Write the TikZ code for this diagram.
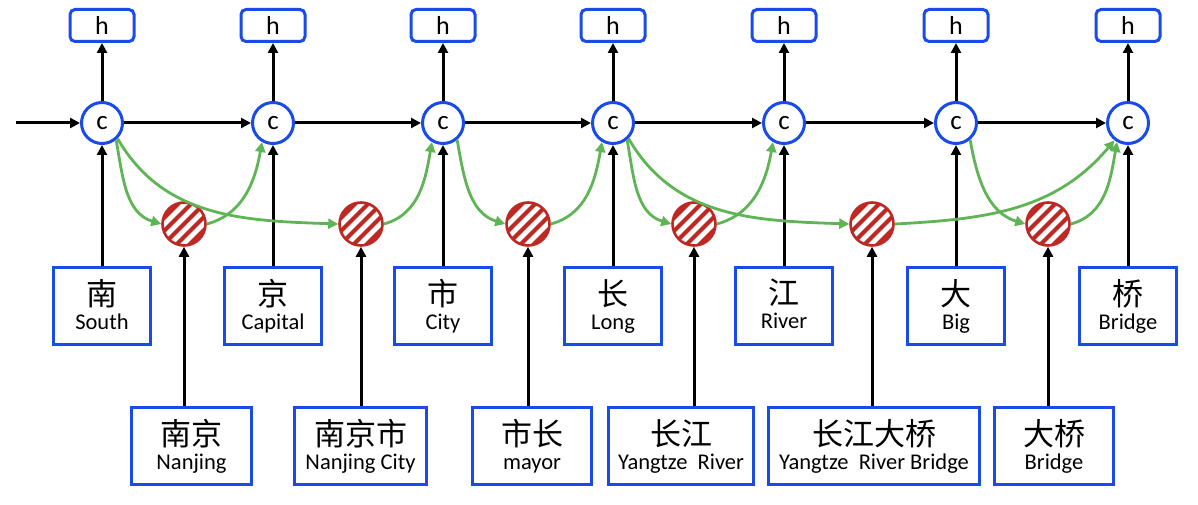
\documentclass[tikz,border=0pt]{standalone}
\usepackage{fontspec}
\setmainfont{Carlito}
\newfontfamily\cjk{Noto Sans CJK SC}
\usetikzlibrary{arrows.meta}
\definecolor{bblue}{RGB}{25,75,235}
\definecolor{rred}{RGB}{190,40,35}
\definecolor{ggreen}{RGB}{95,180,85}
\newcommand\wt[2]{{\cjk\fontsize{31}{24}\selectfont #1}\\{#2\vphantom{g}}}
\tikzset{
  cell/.style={circle,draw=bblue,line width=3pt,fill=white,minimum size=41pt,inner sep=0pt,font=\fontsize{27}{27}\selectfont},
  outbox/.style={draw=bblue,line width=3pt,rounded corners=5pt,minimum width=64pt,minimum height=32pt,inner sep=0pt,font=\fontsize{26}{26}\selectfont},
  wordbox/.style={draw=bblue,line width=3pt,minimum height=77pt,inner sep=0pt,align=center,font=\fontsize{22.5}{24}\selectfont},
  gate/.style={circle,draw=rred,line width=2.6pt,fill=white,minimum size=43pt,inner sep=0pt,
    path picture={\foreach \d in {-39,-26,...,39}{\draw[rred,line width=4pt] ([xshift=\d pt]path picture bounding box.center) ++(-30pt,-30pt) -- ++(60pt,60pt);}}},
  flow/.style={-{Triangle[length=10pt,width=10pt]},line width=3pt,black},
  skip/.style={-{Triangle[length=10pt,width=10pt]},line width=2.8pt,ggreen},
}
\begin{document}
\begin{tikzpicture}[x=1pt,y=1pt]
\useasboundingbox (0,0) rectangle (1198,504);
% cells
\foreach \i/\x in {1/102,2/273,3/443,4/613,5/784,6/956,7/1128}{
  \node[cell] (c\i) at (\x,381) {c};
  \node[outbox] (h\i) at (\x,478.5) {h};
}
% gates
\foreach \i/\x in {1/184,2/361,3/528,4/694,5/872,6/1048}{
  \node[gate] (r\i) at (\x,280) {};
}
% word boxes row 1
\node[wordbox,minimum width=97pt] (w1) at (102,198) {\wt{南}{South}};
\node[wordbox,minimum width=97pt] (w2) at (273,198) {\wt{京}{Capital}};
\node[wordbox,minimum width=97pt] (w3) at (443,198) {\wt{市}{City}};
\node[wordbox,minimum width=97pt] (w4) at (613,198) {\wt{长}{Long}};
\node[wordbox,minimum width=97pt] (w5) at (784,198) {\wt{江}{River}};
\node[wordbox,minimum width=97pt] (w6) at (956,198) {\wt{大}{Big}};
\node[wordbox,minimum width=97pt] (w7) at (1128,198) {\wt{桥}{Bridge}};
% word boxes row 2
\node[wordbox,minimum width=120pt] (p1) at (191.5,58) {\wt{南京}{Nanjing}};
\node[wordbox,minimum width=132pt] (p2) at (360.5,58) {\wt{南京市}{Nanjing City}};
\node[wordbox,minimum width=119pt] (p3) at (532,58) {\wt{市长}{mayor}};
\node[wordbox,minimum width=145pt] (p4) at (681,58) {\wt{长江}{Yangtze\ \ River}};
\node[wordbox,minimum width=211pt] (p5) at (874,58) {\wt{长江大桥}{Yangtze\ \ River Bridge}};
\node[wordbox,minimum width=119pt] (p6) at (1054,58) {\wt{大桥}{Bridge}};
% black connectors
\coordinate (start) at (16,381);
\draw[flow] (start) -- (c1.west);
\foreach \a/\b in {1/2,2/3,3/4,4/5,5/6,6/7}{\draw[flow] (c\a.east) -- (c\b.west);}
\foreach \i in {1,...,7}{
  \draw[flow] (c\i.north) -- (h\i.south);
  \draw[flow] (w\i.north) -- (c\i.south);
}
\foreach \i in {1,...,6}{\draw[flow] (r\i |- p\i.north) -- (r\i.south);}
% green connectors
\draw[skip] (c1.-50) to[out=-80,in=163] (r1.west);
\draw[skip] (c1.-45) to[out=-60,in=178] (r2.west);
\draw[skip] (r1.east) to[out=15,in=-100] (c2.-120);
\draw[skip] (r2.east) to[out=15,in=-100] (c3.-120);
\draw[skip] (c3.-50) to[out=-80,in=163] (r3.west);
\draw[skip] (r3.east) to[out=15,in=-100] (c4.-120);
\draw[skip] (c4.-50) to[out=-80,in=163] (r4.west);
\draw[skip] (c4.-45) to[out=-60,in=178] (r5.west);
\draw[skip] (r4.east) to[out=15,in=-100] (c5.-120);
\draw[skip] (r5.east) to[out=3,in=-130] (c7.-128);
\draw[skip] (c6.-50) to[out=-80,in=163] (r6.west);
\draw[skip] (r6.east) to[out=15,in=-100] (c7.-120);
\end{tikzpicture}
\end{document}
